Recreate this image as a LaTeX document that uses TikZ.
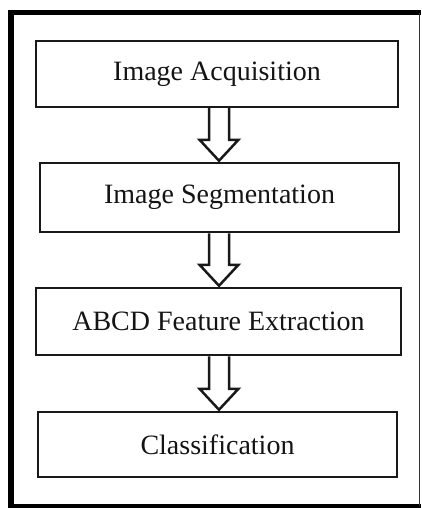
\documentclass[tikz,border=0pt]{standalone}
\usepackage{fontspec}
\setmainfont{Liberation Serif}
\usetikzlibrary{calc}
\begin{document}
\begin{tikzpicture}[x=1pt,y=-1pt,
  stepbox/.style={draw=black!90, line width=2.5pt, rectangle, inner sep=0pt,
    text=black!92, font=\fontsize{28}{32}\selectfont},
  blockarrow/.style={draw=black!90, line width=2.5pt, line join=miter}]
\useasboundingbox (0,0) rectangle (421,508);
% outer frame
\draw[line width=6pt] (11,10) -- (11,508);
\draw[line width=5pt] (8,13) -- (421,13);
\draw[line width=4pt] (8,505.5) -- (421,505.5);
\draw[line width=1pt, black!80] (419.5,13) -- (419.5,505.5);
% boxes
\node[stepbox, minimum width=362, minimum height=66] (a) at (217,74) {Image Acquisition};
\node[stepbox, minimum width=359, minimum height=69] (b) at (219.5,197.5) {Image Segmentation};
\node[stepbox, minimum width=365, minimum height=67] (c) at (218.5,321.5) {ABCD Feature Extraction};
\node[stepbox, minimum width=359, minimum height=65] (d) at (217.5,444.5) {Classification};
% block arrows
\foreach \s/\e in {a/b, b/c, c/d}{
  \draw[blockarrow] let \p1=(\s.south), \p2=(\e.north) in
    (209pt,\y1) -- (209pt,\y2+22pt) -- (199.5pt,\y2+22pt) -- (219pt,\y2+1pt)
    -- (238.5pt,\y2+22pt) -- (229pt,\y2+22pt) -- (229pt,\y1);
}
\end{tikzpicture}
\end{document}
